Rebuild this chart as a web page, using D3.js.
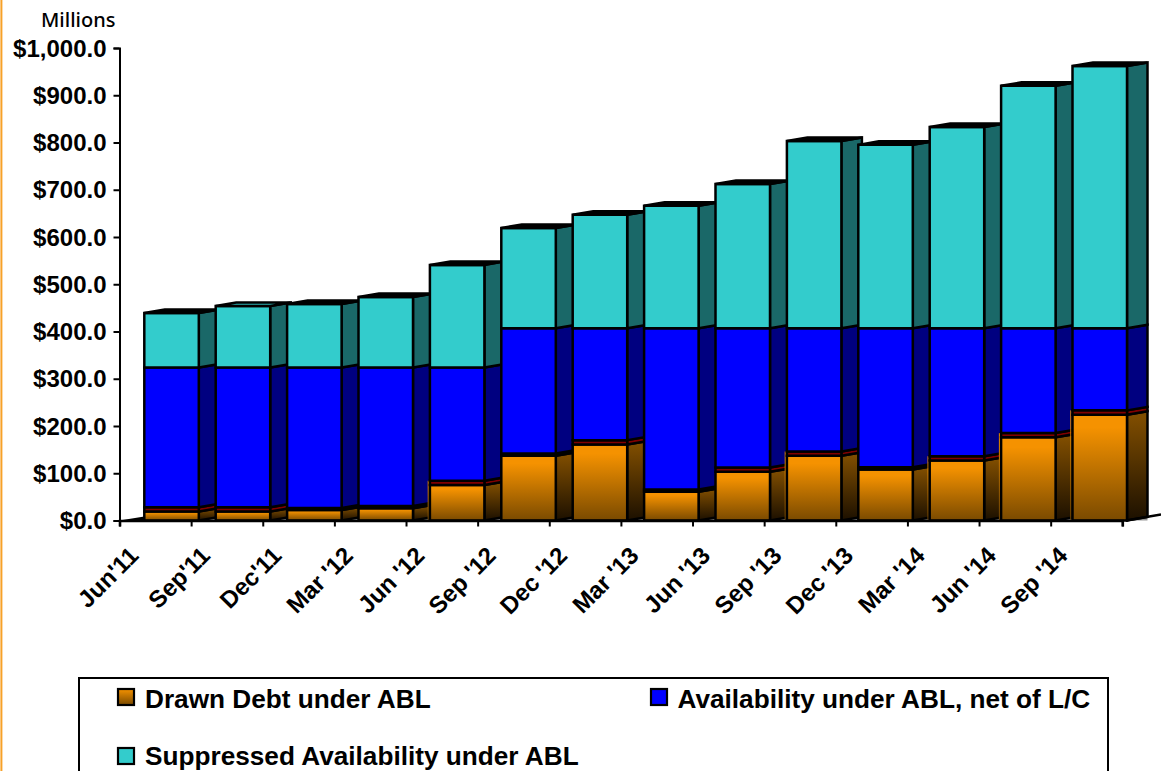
<!DOCTYPE html>
<html>
<head>
<meta charset="utf-8">
<script src="https://cdn.jsdelivr.net/npm/d3@7/dist/d3.min.js"></script>
<style>
html,body{margin:0;padding:0;background:#fff;overflow:hidden}
text{font-family:"Liberation Sans",Arial,sans-serif;font-weight:700;fill:#000}
</style>
</head>
<body>
<svg id="chart" width="1161" height="771"></svg>
<script>
// ABL capacity by quarter, $ millions
const quarters = ["Jun'11","Sep'11","Dec'11","Mar '12","Jun '12","Sep '12","Dec '12","Mar '13","Jun '13","Sep '13","Dec '13","Mar '14","Jun '14","Sep '14"];
const drawnDebt = [19,19,22,26,75,137,161,61,103,137,108,127,176,224];
const availability = [305,305,302,298,249,270,246,346,304,270,299,280,231,183];
const suppressed = [115,130,134,149,217,212,240,259,305,396,388,426,513,555];
const yTicks = [0,100,200,300,400,500,600,700,800,900,1000];
const seriesNames = ["Drawn Debt under ABL","Availability under ABL, net of L/C","Suppressed Availability under ABL"];

const svg = d3.select("#chart");
const y = d3.scaleLinear().domain([0,1000]).range([520.5,48]);
const barX = d3.scalePoint().domain(quarters).range([144.3,1072.5]);
const tickX = d3.scaleLinear().domain([0,14]).range([119.5,1122.3]);
const labelEnd = d3.scalePoint().domain(quarters).range([140,1069]);

const barW = 54.5, depthX = 20.5, depthY = 3.5;

const defs = svg.append("defs");
function gradient(id, top, bottom, start){
  const g = defs.append("linearGradient").attr("id",id).attr("x1",0).attr("y1",0).attr("x2",0).attr("y2",1);
  g.append("stop").attr("offset",start).attr("stop-color",top);
  g.append("stop").attr("offset",1).attr("stop-color",bottom);
}
gradient("orangeFront","#F59200","#7A4A00",0.12);
gradient("orangeSide","#7F4D00","#1C1000",0.05);
gradient("orangeKey","#F59200","#7A4A00",0);

// page edge rule
svg.append("rect").attr("x",0.4).attr("y",0).attr("width",2).attr("height",771).attr("fill","#F7A128");

const line = d3.line();
const quad = (x0,y0,x1,y1)=>line([[x0,y0],[x1,y0],[x1,y1],[x0,y1]])+"Z";

// floor wedge on the left of the first bar
svg.append("path").attr("d",line([[119.5,520.5],[144.3,516.5],[144.3,520.5]])+"Z").attr("fill","#000");

// faces and edges that catch the light in the 3-D shading
const litTop = new Set(["Sep'11"]);
const darkBand = new Set(["Dec'11","Mar '12","Sep '12","Mar '13","Dec '13"]);
const litEdge = new Set(["Jun '12","Sep '13","Mar '14","Jun '14","Sep '14"]);

const bars = svg.append("g").attr("stroke","#000").attr("stroke-width",2.5);
quarters.forEach((q,i)=>{
  const x = barX(q), xr = x+barW;
  const gap = darkBand.has(q) ? 2.2 : 4.3;
  const yD = y(drawnDebt[i]);
  const yB = yD-gap;
  const yA = y(drawnDebt[i]+availability[i]);
  const yS = y(drawnDebt[i]+availability[i]+suppressed[i]);
  const g = bars.append("g");
  // grey sliver of floor below the side face
  g.append("path")
    .attr("d",line([[xr,y(0)],[xr+depthX,y(0)-depthY],[xr+depthX,y(0)]])+"Z")
    .attr("fill","#9A9A9A").attr("stroke","none");
  const side = (top,bottom,fill)=>g.append("path")
    .attr("d",line([[xr,top],[xr+depthX,top-depthY],[xr+depthX,bottom-depthY],[xr,bottom]])+"Z").attr("fill",fill);
  side(yD,y(0),"url(#orangeSide)");
  side(yB,yD,darkBand.has(q)?"#000":"#800000");
  side(yA,yB,"#000080");
  side(yS,yA,"#1A6868");
  if(litEdge.has(q)){
    g.append("rect").attr("x",x-2.2).attr("y",yB).attr("width",1.2).attr("height",y(0)-yB)
      .attr("fill","url(#orangeFront)").attr("stroke","none");
  }
  g.append("path").attr("d",quad(x,y(0),xr,yD)).attr("fill","url(#orangeFront)");
  g.append("path").attr("d",quad(x,yD,xr,yB)).attr("fill",darkBand.has(q)?"#000":"#800000");
  g.append("path").attr("d",quad(x,yB,xr,yA)).attr("fill","#0000FF");
  g.append("path").attr("d",quad(x,yA,xr,yS)).attr("fill","#33CCCC");
  g.append("path")
    .attr("d",line([[x,yS],[x+depthX,yS-depthY],[xr+depthX,yS-depthY],[xr,yS]])+"Z")
    .attr("fill",litTop.has(q)?"#2BB0B0":"#000");
});

// axes
const yAxis = d3.axisLeft(y).tickValues(yTicks).tickSize(6).tickPadding(7)
  .tickFormat(d=>"$"+d3.format(",.1f")(d));
const gy = svg.append("g").attr("transform","translate(119.5,0)").call(yAxis);
gy.select(".domain").attr("stroke","#000").attr("stroke-width",2);
gy.selectAll(".tick line").attr("stroke","#000").attr("stroke-width",2);
gy.selectAll("text").style("font-size","24px")
  .attr("x",-13).attr("y",0).attr("dy","0.34em").attr("text-anchor","end");

const xAxis = d3.axisBottom(tickX).tickValues(d3.range(15)).tickSize(6).tickFormat("");
const gx = svg.append("g").attr("transform","translate(0,520.5)").call(xAxis);
gx.select(".domain").attr("stroke","#000").attr("stroke-width",2.6);
gx.selectAll(".tick line").attr("stroke","#000").attr("stroke-width",2);
svg.append("path").attr("d",line([[1126,520.5],[1161,514.5]])).attr("stroke","#000").attr("stroke-width",2.6).attr("fill","none");

svg.append("g").selectAll("text").data(quarters).join("text")
  .attr("transform",d=>`translate(${labelEnd(d)},557) rotate(-45)`)
  .attr("text-anchor","end").style("font-size","24px").text(d=>d);

svg.append("text").attr("x",41).attr("y",27)
  .style("font-family","'Noto Sans'").style("font-weight",500).style("font-size","20px").text("Millions");

// legend
const legend = svg.append("g");
legend.append("rect").attr("x",79).attr("y",678).attr("width",1029).attr("height",120)
  .attr("fill","#fff").attr("stroke","#000").attr("stroke-width",2);
const legendPos = [[118,689,145,708],[651,689,677.5,708],[118,748,145,765.4]];
const legendFill = ["url(#orangeKey)","#0000FF","#33CCCC"];
seriesNames.forEach((name,i)=>{
  const [sx,sy,tx,ty] = legendPos[i];
  legend.append("rect").attr("x",sx).attr("y",sy).attr("width",16).attr("height",16)
    .attr("fill",legendFill[i]).attr("stroke","#000").attr("stroke-width",2.2);
  legend.append("text").attr("x",tx).attr("y",ty).style("font-size","26.2px").text(name);
});
</script>
</body>
</html>
